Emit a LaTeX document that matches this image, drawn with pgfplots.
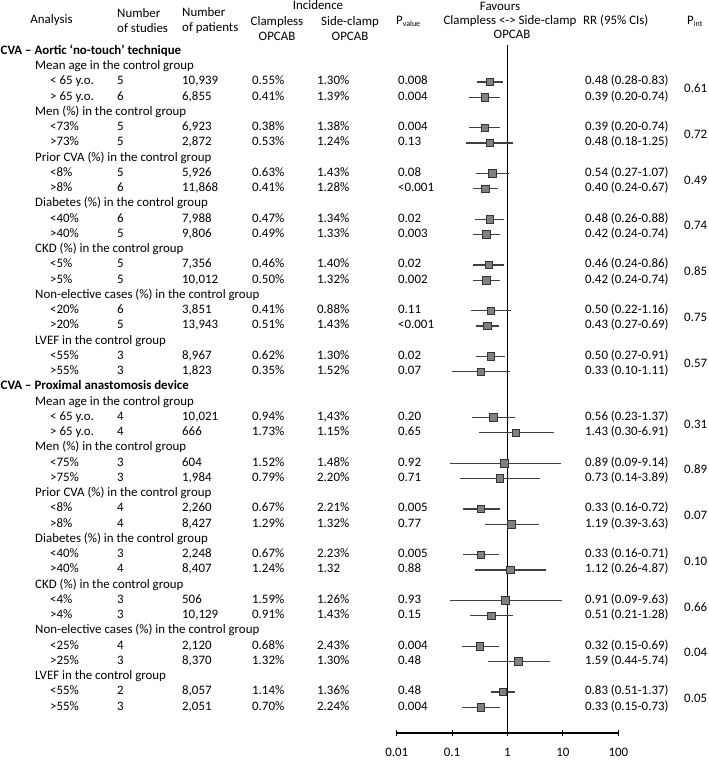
\documentclass[border=0pt]{standalone}
\usepackage{pgfplots}
\pgfplotsset{compat=1.18}
\usepackage{fontspec}
\setmainfont{Carlito}
\newcommand\F{\fontsize{12.9}{15}\selectfont}
\definecolor{sq}{HTML}{808080}
\definecolor{sqb}{HTML}{333333}
\definecolor{ci}{HTML}{404040}
\tikzset{T/.style={anchor=west, inner sep=0pt, text height=1.5ex, text depth=0.25ex, font=\F},
         C/.style={anchor=center, inner sep=0pt, text height=1.5ex, text depth=0.25ex, font=\F}}
\newcommand\rowy[1]{\pgfmathsetmacro\yy{-(51.5+15.25*#1)}}
\newcommand\drow[8]{\rowy{#1}%
 \node[T] at (50,\yy) {#2};
 \node[T] at (117,\yy) {#3};
 \node[T] at (182,\yy) {#4};
 \node[T] at (252,\yy) {#5};
 \node[T] at (317,\yy) {#6};
 \node[T] at (398,\yy) {#7};
 \node[T] at (585,\yy) {#8};}
\newcommand\pint[2]{\rowy{#1}\node[T] at (684,\yy) {#2};}
\newcommand\grp[2]{\rowy{#1}\node[T] at (35,\yy) {#2};}
\newcommand\sect[2]{\rowy{#1}\node[T] at (0.5,\yy) {\bfseries #2};}
\newcommand\sub[1]{\raisebox{-0.35ex}{\fontsize{8}{8}\selectfont #1}}
\begin{document}
\begin{tikzpicture}[x=1pt,y=1pt]
\useasboundingbox (0,0) rectangle (709,-760);
\begin{axis}[at={(396.7pt,-733pt)}, anchor=south west,
  scale only axis, width=221.6pt, height=688pt,
  xmode=log, xmin=0.01, xmax=100, ymin=-0.426, ymax=44.689, y dir=reverse,
  enlargelimits=false, clip=false,
  axis x line=bottom, axis y line=none,
  x axis line style={-, line width=1.1pt},
  xtick={0.01,0.1,1,10,100}, xticklabels={0.01,0.1,1,10,100},
  xminorticks=false, major tick length=6pt, tick align=center,
  tick style={black, line width=1.1pt},
  xticklabel style={font=\F, yshift=-9pt},
  /pgf/number format/assume math mode=true]
% vertical reference line at RR = 1
\addplot[black, line width=1.2pt] coordinates {(1,-0.426) (1,44.689)};
% 95% CIs
\pgfplotsset{cistyle/.style={ci, line width=1.3pt}}
\addplot[cistyle] coordinates {(0.28,2) (0.83,2)};
\addplot[cistyle] coordinates {(0.20,3) (0.74,3)};
\addplot[cistyle] coordinates {(0.20,5) (0.74,5)};
\addplot[cistyle] coordinates {(0.18,6) (1.25,6)};
\addplot[cistyle] coordinates {(0.27,8) (1.07,8)};
\addplot[cistyle] coordinates {(0.24,9) (0.67,9)};
\addplot[cistyle] coordinates {(0.26,11) (0.88,11)};
\addplot[cistyle] coordinates {(0.24,12) (0.74,12)};
\addplot[cistyle] coordinates {(0.24,14) (0.86,14)};
\addplot[cistyle] coordinates {(0.24,15) (0.74,15)};
\addplot[cistyle] coordinates {(0.22,17) (1.16,17)};
\addplot[cistyle] coordinates {(0.27,18) (0.69,18)};
\addplot[cistyle] coordinates {(0.27,20) (0.91,20)};
\addplot[cistyle] coordinates {(0.10,21) (1.11,21)};
\addplot[cistyle] coordinates {(0.23,24) (1.37,24)};
\addplot[cistyle] coordinates {(0.30,25) (6.91,25)};
\addplot[cistyle] coordinates {(0.09,27) (9.14,27)};
\addplot[cistyle] coordinates {(0.14,28) (3.89,28)};
\addplot[cistyle] coordinates {(0.16,30) (0.72,30)};
\addplot[cistyle] coordinates {(0.39,31) (3.63,31)};
\addplot[cistyle] coordinates {(0.16,33) (0.71,33)};
\addplot[cistyle] coordinates {(0.26,34) (4.87,34)};
\addplot[cistyle] coordinates {(0.09,36) (9.63,36)};
\addplot[cistyle] coordinates {(0.21,37) (1.28,37)};
\addplot[cistyle] coordinates {(0.15,39) (0.69,39)};
\addplot[cistyle] coordinates {(0.44,40) (5.74,40)};
\addplot[cistyle] coordinates {(0.51,42) (1.37,42)};
\addplot[cistyle] coordinates {(0.15,43) (0.73,43)};
% point estimates
\addplot[only marks, mark=square*, mark size=3.8pt,
  mark options={fill=sq, draw=sqb, line width=0.9pt}] coordinates {
 (0.48,2) (0.39,3) (0.39,5) (0.48,6) (0.54,8) (0.40,9) (0.48,11) (0.42,12)
 (0.46,14) (0.42,15) (0.50,17) (0.43,18) (0.50,20) (0.33,21)
 (0.56,24) (1.43,25) (0.89,27) (0.73,28) (0.33,30) (1.19,31) (0.33,33) (1.12,34)
 (0.91,36) (0.51,37) (0.32,39) (1.59,40) (0.83,42) (0.33,43)};
\end{axis}
% header
\node[C] at (318,-7) {Incidence};
\node[C] at (51.5,-21) {Analysis};
\node[anchor=west, inner sep=0pt, align=left, font=\F] at (117,-21) {Number\\of studies};
\node[anchor=west, inner sep=0pt, align=left, font=\F] at (182,-21) {Number\\of patients};
\node[anchor=center, inner sep=0pt, align=center, font=\F] at (277,-28.5) {Clampless\\OPCAB};
\node[anchor=center, inner sep=0pt, align=center, font=\F] at (350,-28.5) {Side-clamp\\OPCAB};
\node[T] at (396,-21.5) {P\sub{value}};
\node[C] at (500,-7.5) {Favours};
\node[C] at (510,-21.5) {Clampless <-> Side-clamp};
\node[C] at (512,-35.5) {OPCAB};
\node[T] at (583,-21.5) {RR (95\% CIs)};
\node[T] at (687,-21.5) {P\sub{int}};
% section 1
\sect{0}{CVA – Aortic ‘no-touch’ technique}
\grp{1}{Mean age in the control group}
\drow{2}{< 65 y.o.}{5}{10,939}{0.55\%}{1.30\%}{0.008}{0.48 (0.28-0.83)}
\drow{3}{> 65 y.o.}{6}{6,855}{0.41\%}{1.39\%}{0.004}{0.39 (0.20-0.74)}
\pint{2.5}{0.61}
\grp{4}{Men (\%) in the control group}
\drow{5}{<73\%}{5}{6,923}{0.38\%}{1.38\%}{0.004}{0.39 (0.20-0.74)}
\drow{6}{>73\%}{5}{2,872}{0.53\%}{1.24\%}{0.13}{0.48 (0.18-1.25)}
\pint{5.5}{0.72}
\grp{7}{Prior CVA (\%) in the control group}
\drow{8}{<8\%}{5}{5,926}{0.63\%}{1.43\%}{0.08}{0.54 (0.27-1.07)}
\drow{9}{>8\%}{6}{11,868}{0.41\%}{1.28\%}{<0.001}{0.40 (0.24-0.67)}
\pint{8.5}{0.49}
\grp{10}{Diabetes (\%) in the control group}
\drow{11}{<40\%}{6}{7,988}{0.47\%}{1.34\%}{0.02}{0.48 (0.26-0.88)}
\drow{12}{>40\%}{5}{9,806}{0.49\%}{1.33\%}{0.003}{0.42 (0.24-0.74)}
\pint{11.5}{0.74}
\grp{13}{CKD (\%) in the control group}
\drow{14}{<5\%}{5}{7,356}{0.46\%}{1.40\%}{0.02}{0.46 (0.24-0.86)}
\drow{15}{>5\%}{5}{10,012}{0.50\%}{1.32\%}{0.002}{0.42 (0.24-0.74)}
\pint{14.5}{0.85}
\grp{16}{Non-elective cases (\%) in the control group}
\drow{17}{<20\%}{6}{3,851}{0.41\%}{0.88\%}{0.11}{0.50 (0.22-1.16)}
\drow{18}{>20\%}{5}{13,943}{0.51\%}{1.43\%}{<0.001}{0.43 (0.27-0.69)}
\pint{17.5}{0.75}
\grp{19}{LVEF in the control group}
\drow{20}{<55\%}{3}{8,967}{0.62\%}{1.30\%}{0.02}{0.50 (0.27-0.91)}
\drow{21}{>55\%}{3}{1,823}{0.35\%}{1.52\%}{0.07}{0.33 (0.10-1.11)}
\pint{20.5}{0.57}
% section 2
\sect{22}{CVA – Proximal anastomosis device}
\grp{23}{Mean age in the control group}
\drow{24}{< 65 y.o.}{4}{10,021}{0.94\%}{1,43\%}{0.20}{0.56 (0.23-1.37)}
\drow{25}{> 65 y.o.}{4}{666}{1.73\%}{1.15\%}{0.65}{1.43 (0.30-6.91)}
\pint{24.5}{0.31}
\grp{26}{Men (\%) in the control group}
\drow{27}{<75\%}{3}{604}{1.52\%}{1.48\%}{0.92}{0.89 (0.09-9.14)}
\drow{28}{>75\%}{3}{1,984}{0.79\%}{2.20\%}{0.71}{0.73 (0.14-3.89)}
\pint{27.5}{0.89}
\grp{29}{Prior CVA (\%) in the control group}
\drow{30}{<8\%}{4}{2,260}{0.67\%}{2.21\%}{0.005}{0.33 (0.16-0.72)}
\drow{31}{>8\%}{4}{8,427}{1.29\%}{1.32\%}{0.77}{1.19 (0.39-3.63)}
\pint{30.5}{0.07}
\grp{32}{Diabetes (\%) in the control group}
\drow{33}{<40\%}{3}{2,248}{0.67\%}{2.23\%}{0.005}{0.33 (0.16-0.71)}
\drow{34}{>40\%}{4}{8,407}{1.24\%}{1.32}{0.88}{1.12 (0.26-4.87)}
\pint{33.5}{0.10}
\grp{35}{CKD (\%) in the control group}
\drow{36}{<4\%}{3}{506}{1.59\%}{1.26\%}{0.93}{0.91 (0.09-9.63)}
\drow{37}{>4\%}{3}{10,129}{0.91\%}{1.43\%}{0.15}{0.51 (0.21-1.28)}
\pint{36.5}{0.66}
\grp{38}{Non-elective cases (\%) in the control group}
\drow{39}{<25\%}{4}{2,120}{0.68\%}{2.43\%}{0.004}{0.32 (0.15-0.69)}
\drow{40}{>25\%}{3}{8,370}{1.32\%}{1.30\%}{0.48}{1.59 (0.44-5.74)}
\pint{39.5}{0.04}
\grp{41}{LVEF in the control group}
\drow{42}{<55\%}{2}{8,057}{1.14\%}{1.36\%}{0.48}{0.83 (0.51-1.37)}
\drow{43}{>55\%}{3}{2,051}{0.70\%}{2.24\%}{0.004}{0.33 (0.15-0.73)}
\pint{42.5}{0.05}
\end{tikzpicture}
\end{document}
